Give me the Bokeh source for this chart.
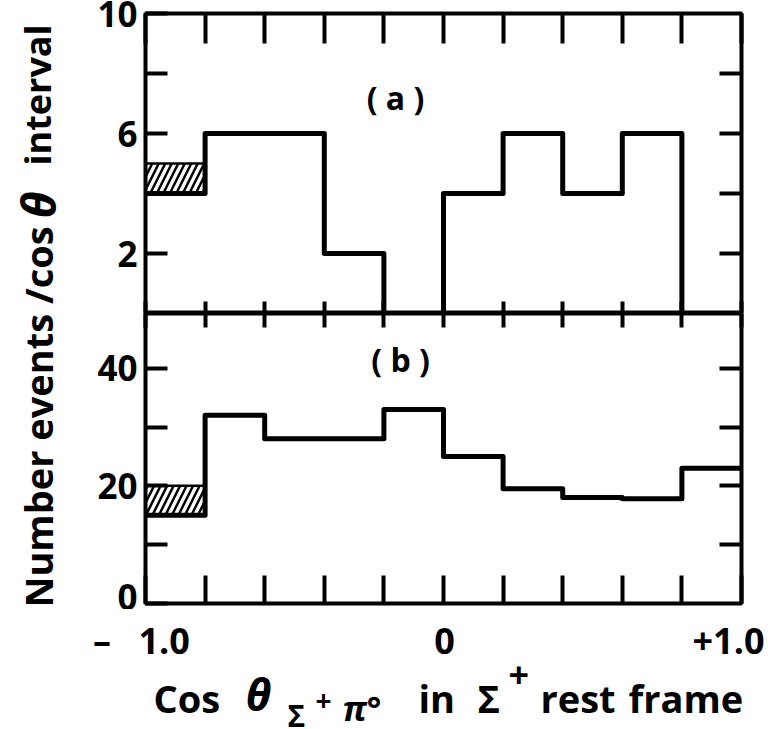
import math
from bokeh.plotting import figure
from bokeh.models import Range1d, LinearAxis, FixedTicker, Label, Grid
from bokeh.layouts import row, column
from bokeh.embed import file_html
from bokeh.resources import INLINE

# ---- data ----
bin_edges = [-1.0, -0.8, -0.6, -0.4, -0.2, 0.0, 0.2, 0.4, 0.6, 0.8, 1.0]
a_counts = [4, 6, 6, 2, 0, 4, 6, 4, 6, 0]
a_hatched = [1, 0, 0, 0, 0, 0, 0, 0, 0, 0]
b_counts = [15, 32, 28, 28, 33, 25, 19.5, 18, 17.8, 23]
b_hatched = [5, 0, 0, 0, 0, 0, 0, 0, 0, 0]

x_ticks = bin_edges
x_tick_values = [-1.0, 0.0, 1.0]
x_tick_texts = ["\u2013\u2002 1.0", "0", "+1.0"]
a_yticks = [2, 4, 6, 8, 10]
a_ylabels = {2: "2", 6: "6", 10: "10"}
a_rticks = [2, 4, 6, 8]
b_yticks = [0, 10, 20, 30, 40]
b_ylabels = {0: "0", 20: "20", 40: "40"}
b_rticks = [10, 20, 30, 40]

FONT = "Open Sans"
XMIN, XMAX = -1.0, 1.0
xr = Range1d(XMIN, XMAX)

# layout constants (pixels)
W = 768
YLAB_W = 80
PANEL_W = W - YLAB_W
BORDER_L = 65
BORDER_R = 27
FRAME_W = PANEL_W - BORDER_L - BORDER_R
PA_H = 313
PB_FRAME = 290
PB_BOTTOM = 6
PB_H = PB_FRAME + PB_BOTTOM
STRIP_H = 729 - PA_H - PB_H


def no_grid(p):
    for r in list(p.center):
        if isinstance(r, Grid):
            r.visible = False


def make_panel(height, ymax, mb_top, mb_bottom):
    p = figure(width=PANEL_W, height=height, x_range=xr, y_range=Range1d(0, ymax),
               output_backend="svg", toolbar_location=None,
               x_axis_location=None, y_axis_location=None,
               min_border_left=BORDER_L, min_border_right=BORDER_R,
               min_border_top=mb_top, min_border_bottom=mb_bottom)
    p.outline_line_color = "black"
    p.outline_line_width = 4
    p.background_fill_color = "white"
    p.border_fill_color = "white"
    no_grid(p)
    return p


def tick_axis(ticks, tin, labels=None, standoff=8):
    ax = LinearAxis(ticker=FixedTicker(ticks=ticks), major_tick_in=tin, major_tick_out=0,
                    major_tick_line_width=4, major_tick_line_color="black",
                    minor_tick_line_color=None, axis_line_color=None)
    ov = {t: "" for t in ticks}
    if labels is not None:
        ov.update(labels)
        ax.major_label_text_font = FONT
        ax.major_label_text_font_style = "bold"
        ax.major_label_text_font_size = "35px"
        ax.major_label_text_color = "black"
        ax.major_label_standoff = standoff
    else:
        ax.major_label_text_font_size = "1px"
        ax.major_label_standoff = 0
    ax.major_label_overrides = ov
    return ax


def draw_hist(p, counts, hatched):
    ys = counts + [counts[-1]]
    p.step(x=bin_edges, y=ys, mode="after", line_color="black", line_width=5,
           line_join="round")
    L, R, B, T = [], [], [], []
    for i, h in enumerate(hatched):
        if h > 0:
            L.append(bin_edges[i]); R.append(bin_edges[i + 1])
            B.append(counts[i]); T.append(counts[i] + h)
    p.quad(left=L, right=R, bottom=B, top=T, fill_color=None, line_color="black",
           line_width=2.5, hatch_pattern="/", hatch_color="black", hatch_weight=2.5,
           hatch_scale=13)


def lab(p, x, y, text, size, style="bold", xu="data", yu="data", **kw):
    p.add_layout(Label(x=x, y=y, x_units=xu, y_units=yu, text=text, text_font=FONT,
                       text_font_style=style, text_font_size=size, text_color="black", **kw))


def blank_fig(w, h, x_range):
    f = figure(width=w, height=h, x_range=x_range, y_range=Range1d(0, 1),
               output_backend="svg", toolbar_location=None, min_border=0,
               min_border_left=0, min_border_right=0, min_border_top=0, min_border_bottom=0,
               x_axis_location=None, y_axis_location=None)
    f.outline_line_color = None
    f.background_fill_color = "white"
    f.border_fill_color = "white"
    no_grid(f)
    return f


# ---- panel (a) ----
pa = make_panel(PA_H, 10, 13, 0)
draw_hist(pa, a_counts, a_hatched)
pa.add_layout(tick_axis(x_ticks, 30), "above")
pa.add_layout(tick_axis(x_ticks, 12), "below")
pa.add_layout(tick_axis(a_yticks, 22, a_ylabels), "left")
pa.add_layout(tick_axis(a_rticks, 22), "right")
lab(pa, -0.161, 7.2, "( a )", "32px", text_align="center", text_baseline="middle")

# ---- panel (b) ----
pb = make_panel(PB_H, 49.3, 0, PB_BOTTOM)
draw_hist(pb, b_counts, b_hatched)
pb.add_layout(tick_axis(x_ticks, 14), "above")
pb.add_layout(tick_axis(x_ticks, 28), "below")
pb.add_layout(tick_axis(b_yticks, 22, b_ylabels), "left")
pb.add_layout(tick_axis(b_rticks, 22), "right")
lab(pb, -0.144, 41.5, "( b )", "32px", text_align="center", text_baseline="middle")

# ---- y label (left strip) ----
py = blank_fig(YLAB_W, PA_H + PB_H, Range1d(0, 1))


def yt(y, text, size, style="bold"):
    lab(py, 37, y, text, size, style, xu="screen", yu="screen", angle=math.pi / 2,
        text_align="left", text_baseline="alphabetic")

yt(2, "Number events /cos", "38px")
yt(391, "θ", "46px", "bold italic")
yt(444, "interval", "36px")

# ---- bottom strip (full width): x tick labels and x-axis title ----
px_per_unit = FRAME_W / (XMAX - XMIN)
strip_range = Range1d(XMIN - (YLAB_W + BORDER_L) / px_per_unit, XMAX + BORDER_R / px_per_unit)
ps = blank_fig(W, STRIP_H, strip_range)

for v, t, dx in zip(x_tick_values, x_tick_texts, [-4, 1, -13]):
    lab(ps, v, 89, t, "36px", xu="data", yu="screen", x_offset=dx,
        text_align="center", text_baseline="alphabetic")


def xt(x, y, text, size, style="bold"):
    lab(ps, x, y, text, size, style, xu="screen", yu="screen", text_align="left",
        text_baseline="alphabetic")

xt(153, 32, "Cos", "38px")
xt(245, 36, "θ", "44px", "bold italic")
xt(287, 14, "Σ", "30px")
xt(315, 29, "+", "28px")
xt(342, 22, "π°", "34px", "bold italic")
xt(418, 32, "in", "38px")
xt(477, 32, "Σ", "38px")
xt(508, 55, "+", "36px")
xt(540, 32, "rest", "38px")
xt(628, 32, "frame", "38px")

layout = column(row(py, column(pa, pb)), ps)
open("out.html", "w").write(file_html(layout, INLINE))
